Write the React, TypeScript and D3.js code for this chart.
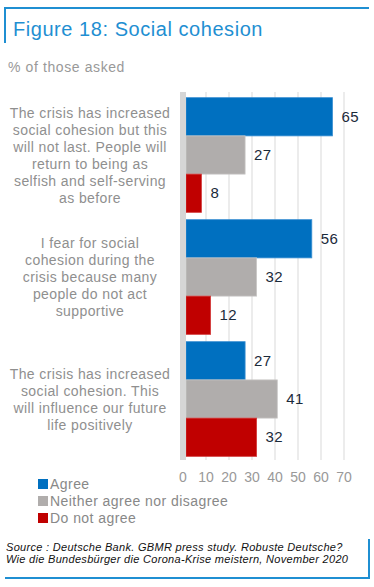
import React, { useEffect, useRef } from 'react';
import * as d3 from 'd3';

// Survey statements (each split into display lines)
const statements: string[][] = [
  ['The crisis has increased', 'social cohesion but this', 'will not last. People will', 'return to being as', 'selfish and self-serving', 'as before'],
  ['I fear for social', 'cohesion during the', 'crisis because many', 'people do not act', 'supportive'],
  ['The crisis has increased', 'social cohesion. This', 'will influence our future', 'life positively'],
];

const seriesNames = ['Agree', 'Neither agree nor disagree', 'Do not agree'];
const agree = [65, 56, 27];
const neither = [27, 32, 41];
const disagree = [8, 12, 32];
const xTicks = [0, 10, 20, 30, 40, 50, 60, 70];

const colors = ['#0070c0', '#b0adac', '#c00000'];
const strokes = ['#3a8fd2', '#c9c7c6', '#d23a3a'];

const App = () => {
  const ref = useRef<SVGSVGElement>(null);

  useEffect(() => {
    const svg = d3.select(ref.current);
    svg.selectAll('*').remove();
    const font = 'Arial, "Liberation Sans", sans-serif';
    const values = [agree, neither, disagree];

    // Header frame
    svg.append('line').attr('x1', 4).attr('x2', 369).attr('y1', 8).attr('y2', 8)
      .attr('stroke', '#1f8fd2').attr('stroke-width', 2);
    svg.append('line').attr('x1', 5).attr('x2', 5).attr('y1', 7).attr('y2', 43)
      .attr('stroke', '#1f8fd2').attr('stroke-width', 2);
    svg.append('text').attr('x', 13).attr('y', 36).text('Figure 18: Social cohesion')
      .attr('font-family', font).attr('font-size', 20).attr('letter-spacing', 0.55)
      .attr('fill', '#1f8fd2');
    svg.append('text').attr('x', 8).attr('y', 72).text('% of those asked')
      .attr('font-family', font).attr('font-size', 14).attr('letter-spacing', 0.6)
      .attr('fill', '#999');

    // Scales
    const x = d3.scaleLinear().domain([0, 70]).range([183, 344]);
    const y = d3.scaleBand<number>().domain(d3.range(statements.length))
      .range([94, 460]).paddingInner(0.06).paddingOuter(0.03);
    const ys = d3.scaleBand<number>().domain(d3.range(3)).range([0, y.bandwidth()]);

    // Gridlines
    svg.append('g').selectAll('line').data(xTicks.slice(1)).enter().append('line')
      .attr('x1', d => x(d)).attr('x2', d => x(d))
      .attr('y1', 92).attr('y2', 460)
      .attr('stroke', '#d9d9d9').attr('stroke-width', 1);

    // Bars
    values.forEach((vals, s) => {
      const g = svg.append('g');
      g.selectAll('rect').data(vals).enter().append('rect')
        .attr('x', x(0) + 3)
        .attr('y', (_, i) => y(i)! + ys(s)!)
        .attr('width', d => x(d) - x(0) - 3)
        .attr('height', ys.bandwidth())
        .attr('fill', colors[s])
        .attr('stroke', strokes[s]).attr('stroke-width', 0.8);
      g.selectAll('text').data(vals).enter().append('text')
        .attr('x', d => x(d) + 9)
        .attr('y', (_, i) => y(i)! + ys(s)! + ys.bandwidth() / 2 + 5)
        .text(d => d)
        .attr('font-family', font).attr('font-size', 15).attr('letter-spacing', 0.3)
        .attr('fill', '#1b2a3a');
    });

    // Zero axis band
    svg.append('rect').attr('x', 180).attr('y', 92).attr('width', 6).attr('height', 368)
      .attr('fill', '#d6d6d6');

    // Tick labels
    svg.append('g').selectAll('text').data(xTicks).enter().append('text')
      .attr('x', d => x(d)).attr('y', 482).attr('text-anchor', 'middle')
      .text(d => d)
      .attr('font-family', font).attr('font-size', 14).attr('fill', '#999');

    // Category labels
    statements.forEach((lines, i) => {
      const cy = y(i)! + y.bandwidth() / 2;
      const lh = 17;
      const t = svg.append('text').attr('text-anchor', 'middle')
        .attr('font-family', font).attr('font-size', 14).attr('letter-spacing', 0.4)
        .attr('fill', '#8f8f8f');
      lines.forEach((l, j) => {
        t.append('tspan').attr('x', 90)
          .attr('y', cy + (j - (lines.length - 1) / 2) * lh + 5)
          .text(l);
      });
    });

    // Legend
    seriesNames.forEach((name, i) => {
      const ly = 484 + i * 17;
      svg.append('rect').attr('x', 38).attr('y', ly - 5).attr('width', 10).attr('height', 10)
        .attr('fill', colors[i]);
      svg.append('text').attr('x', 50).attr('y', ly + 5).text(name)
        .attr('font-family', font).attr('font-size', 14).attr('letter-spacing', 0.45)
        .attr('fill', '#888');
    });

    // Source box
    svg.append('line').attr('x1', 369).attr('x2', 369).attr('y1', 539).attr('y2', 579)
      .attr('stroke', '#1f8fd2').attr('stroke-width', 2);
    svg.append('line').attr('x1', 5).attr('x2', 370).attr('y1', 578).attr('y2', 578)
      .attr('stroke', '#1f8fd2').attr('stroke-width', 2);
    const src = svg.append('text').attr('font-family', font).attr('font-size', 11)
      .attr('font-style', 'italic').attr('letter-spacing', 0.3).attr('fill', '#111');
    src.append('tspan').attr('x', 6).attr('y', 551)
      .text('Source : Deutsche Bank. GBMR press study. Robuste Deutsche?');
    src.append('tspan').attr('x', 6).attr('y', 563)
      .text('Wie die Bundesbürger die Corona-Krise meistern, November 2020');
  }, []);

  return (
    <div style={{ position: 'absolute', left: 0, top: 0, background: '#fff' }}>
      <svg ref={ref} width={374} height={587} />
    </div>
  );
};

export default App;
